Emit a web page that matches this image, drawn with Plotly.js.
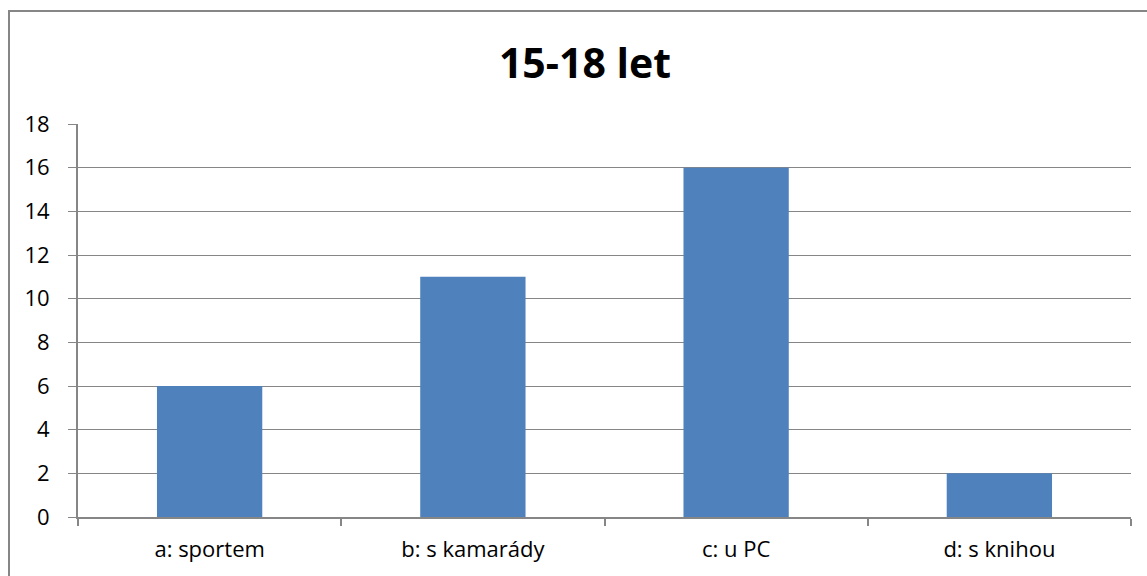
<!DOCTYPE html>
<html>
<head>
<meta charset="utf-8">
<script src="https://cdn.plot.ly/plotly-3.0.1.min.js"></script>
<style>
html,body{margin:0;padding:0;background:#fff;}
#chart{width:1147px;height:576px;}
</style>
</head>
<body>
<div id="chart"></div>
<script>
const categories = ["a: sportem", "b: s kamarády", "c: u PC", "d: s knihou"];
const values = [6, 11, 16, 2];
const yTicks = [0, 2, 4, 6, 8, 10, 12, 14, 16, 18];
const chartTitle = "15-18 let";

const trace = {
  type: "bar",
  x: categories,
  y: values,
  marker: {color: "#4f81bd"},
  hoverinfo: "x+y"
};

const W = 1053, H = 393;
const layout = {
  width: 1147,
  height: 576,
  margin: {l: 78, r: 16, t: 124, b: 59, pad: 0},
  paper_bgcolor: "#ffffff",
  plot_bgcolor: "#ffffff",
  font: {family: "Open Sans, Noto Sans, sans-serif", size: 22, color: "#000000"},
  title: {
    text: "<b>" + chartTitle + "</b>",
    font: {family: "Open Sans, Noto Sans, sans-serif", size: 41, color: "#000000"},
    x: 585/1147, xref: "container", xanchor: "center",
    y: 1 - 64/576, yref: "container", yanchor: "middle"
  },
  bargap: 0.6,
  showlegend: false,
  xaxis: {
    type: "category",
    showgrid: false,
    showline: true,
    linecolor: "#868686",
    linewidth: 2,
    ticks: "outside",
    tickson: "boundaries",
    ticklen: 7,
    tickwidth: 2,
    tickcolor: "#868686",
    ticklabelstandoff: 12,
    tickfont: {size: 22},
    zeroline: false,
    fixedrange: true
  },
  yaxis: {
    range: [0, 18],
    tickvals: yTicks,
    showgrid: true,
    gridcolor: "#868686",
    gridwidth: 1,
    showline: true,
    linecolor: "#868686",
    linewidth: 2,
    ticks: "outside",
    ticklen: 8,
    tickwidth: 1,
    tickcolor: "#868686",
    ticklabelstandoff: 14,
    tickfont: {size: 22},
    zeroline: false,
    fixedrange: true
  },
  shapes: [{
    type: "rect",
    xref: "paper", yref: "paper",
    x0: (9 - 78) / W, x1: 1.1,
    y0: -0.3, y1: (517 - 11) / H,
    line: {color: "#868686", width: 2},
    fillcolor: "rgba(0,0,0,0)",
    layer: "below"
  }]
};

Plotly.newPlot("chart", [trace], layout, {displayModeBar: false});
</script>
</body>
</html>
